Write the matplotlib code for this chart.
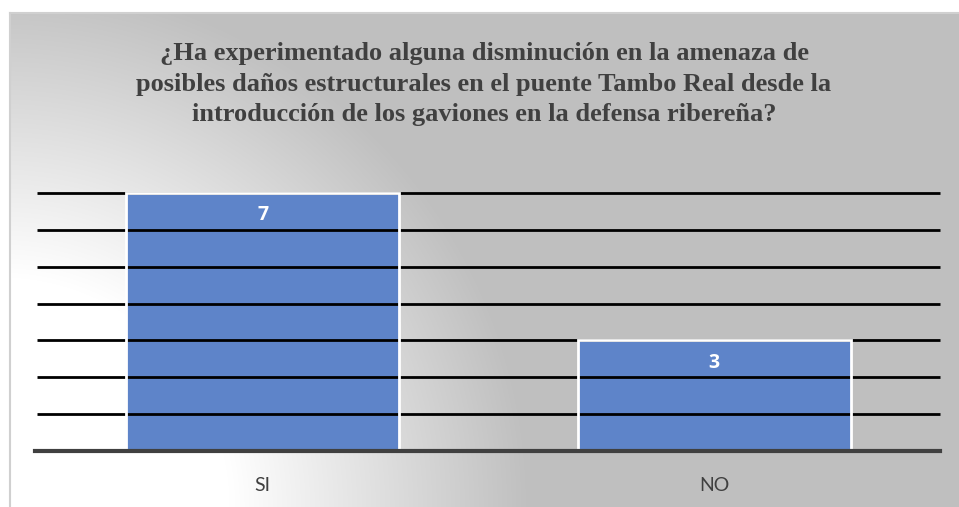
import numpy as np
import matplotlib.pyplot as plt
from matplotlib.patches import Rectangle

categorias = ["SI", "NO"]
valores = [7, 3]
titulo = ("¿Ha experimentado alguna disminución en la amenaza de\n"
          "posibles daños estructurales en el puente Tambo Real desde la\n"
          "introducción de los gaviones en la defensa ribereña?")

W, H = 959, 507
fig = plt.figure(figsize=(W/100, H/100), dpi=100)
fig.patch.set_facecolor("white")

# fondo con degradado (zona del grafico)
x0, y0 = 10, 13
bg = fig.add_axes([x0/W, 0, (W-x0)/W, (H-y0)/H])
xx, yy = np.meshgrid(np.arange(x0, W), np.arange(y0, H))
r = np.hypot(xx - 0, yy - H)
g = np.clip((r - 230) / 300, 0, 1)
gris = (255 - g*(255-191)) / 255
bg.imshow(np.dstack([gris, gris, gris]), aspect="auto", extent=[0, 1, 0, 1])
bg.set_xlim(0, 1); bg.set_ylim(0, 1)
bg.set_xticks([]); bg.set_yticks([])
for s in bg.spines.values():
    s.set_visible(False)
for lado in ["left", "top"]:
    bg.spines[lado].set_visible(True)
    bg.spines[lado].set_color("#d0d0d0")
    bg.spines[lado].set_linewidth(1.5)

fig.text(484/W, 1-84/H, titulo, ha="center", va="center", fontsize=19,
         fontweight="bold", family="Liberation Serif", color="#404040",
         linespacing=1.42)

ax = fig.add_axes([37/W, 56/H, (940-37)/W, (451-193)/H])
ax.set_facecolor("none")
x = np.arange(len(categorias))
ancho = 0.605
ax.bar(x, valores, width=ancho, color="#5e84c9", zorder=2)
ax.hlines(range(1, 8), -0.5, 1.5, colors="black", lw=2, zorder=3, clip_on=False)
for xi, v in zip(x, valores):
    ax.add_patch(Rectangle((xi-ancho/2, 0), ancho, v, fill=False,
                           edgecolor="white", lw=2, zorder=4, clip_on=False))
    ax.annotate(str(v), (xi, v), xytext=(0, -16), textcoords="offset points",
                ha="center", va="center", color="white", fontsize=14,
                fontweight="bold", family="Open Sans", zorder=6)
ax.axhline(0, color="#404040", lw=3, zorder=5, xmin=-0.002, clip_on=False)
ax.set_xlim(-0.5, 1.5)
ax.set_ylim(0, 7)
ax.set_yticks([])
ax.set_xticks(x)
ax.set_xticklabels(categorias, fontsize=14, family="Lato", color="#404040")
ax.tick_params(axis="x", length=0, pad=19)
for s in ax.spines.values():
    s.set_visible(False)

fig.savefig("out.png", dpi=100)
